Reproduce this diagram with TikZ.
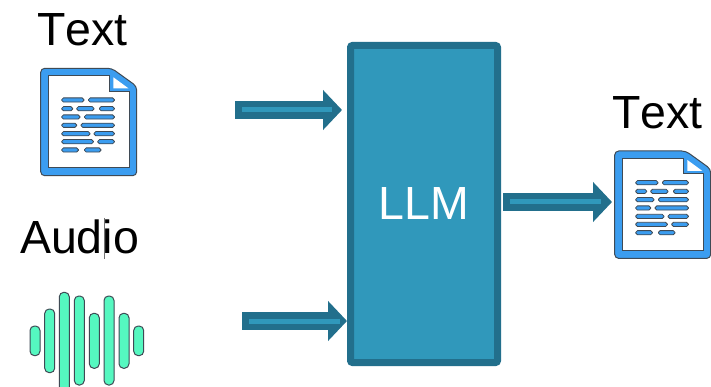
\documentclass[tikz,border=0pt]{standalone}
\usepackage{fontspec}
\setmainfont[Kerning=Off]{Liberation Sans}
\usetikzlibrary{arrows.meta}
\definecolor{llmfill}{HTML}{3098BB}
\definecolor{llmdark}{HTML}{226F8C}
\definecolor{docblue}{HTML}{3B9DF0}
\definecolor{docedge}{HTML}{3F4A55}
\definecolor{wavefill}{HTML}{55F8C0}
\tikzset{
    biglabel/.style={anchor=base, inner sep=0pt, font=\fontsize{46.5}{46.5}\selectfont},
    blockarrow/.style={draw=llmdark, line width=18pt, -{Triangle[length=19pt,width=39pt]}},
    blockinner/.style={draw=llmfill, line width=5pt},
    docicon/.pic={
        \draw[fill=docblue, draw=docedge, line width=1pt, rounded corners=4pt] (0,0) -- (71,0) -- (96,18) -- (96,107.4) -- (0,107.4) -- cycle;
        \draw[fill=white, draw=docedge, line width=1pt] (7.5,7.5) -- (68.5,7.5) -- (68.5,23) -- (88.5,23) -- (88.5,99.7) -- (7.5,99.7) -- cycle;
        \fill[white] (72.7,9) -- (72.7,20) -- (87.7,20) -- cycle;
        \foreach \rowy/\segs in {31.7/{21/43.3,47.7/73.7}, 40.4/{21/32,36/53.3,58.7/73.7}, 48.7/{21/39.3,43.7/73.7}, 57/{21/36,40.3/73.7}, 65.4/{21/49.3,53.3/73.7}, 73.4/{21/52.7,57/73.7}, 81.7/{21/37.7,43.7/60.3}}
            \foreach \xa/\xb in \segs
                \draw[fill=docblue, draw=docedge, line width=0.8pt, rounded corners=1.8pt] (\xa,\rowy-2.1) rectangle (\xb,\rowy+2.1);
    }
}
\begin{document}
\begin{tikzpicture}[x=1pt, y=-1pt]
    \useasboundingbox[fill=white] (0,0) rectangle (711,387);
    \node[biglabel] (textin) at (82.5,46) {Text};
    \node[biglabel] (audioin) at (79.5,253) {Audio};
    \node[biglabel] (textout) at (657.5,129) {Text};
    \draw[black!55, line width=0.8pt] (104,218) -- (104,259);
    \pic at (40.7,68.3) {docicon};
    \pic at (614.7,151) {docicon};
    \foreach \bx/\ya/\yb in {35/326/355.7, 49.7/309/372.7, 64.3/292.3/392, 79.3/296/385, 94.3/313.3/368.3, 109/296/385, 124/313.3/368.3, 138.7/326/355.7}
        \draw[fill=wavefill, draw=docedge, line width=1pt, rounded corners=4.5pt] (\bx-5,\ya) rectangle (\bx+5,\yb);
    \node[draw=llmdark, fill=llmfill, line width=7pt, rounded corners=2pt, minimum width=147pt, minimum height=317pt, text=white, font=\fontsize{46.5}{46.5}\selectfont] (llm) at (424,204) {LLM};
    \coordinate (textstart) at (235,110);
    \coordinate (audiostart) at (242,321);
    \coordinate (outend) at (612,202);
    \draw[blockarrow, shorten >=5pt] (textstart) -- (llm.west |- textstart);
    \draw[blockinner, shorten <=7pt, shorten >=15pt] (textstart) -- (llm.west |- textstart);
    \draw[blockarrow] (audiostart) -- (llm.west |- audiostart);
    \draw[blockinner, shorten <=7pt, shorten >=7pt] (audiostart) -- (llm.west |- audiostart);
    \draw[blockarrow, shorten <=2pt] (llm.east |- outend) -- (outend);
    \draw[blockinner, shorten <=9pt, shorten >=11pt] (llm.east |- outend) -- (outend);
\end{tikzpicture}
\end{document}
